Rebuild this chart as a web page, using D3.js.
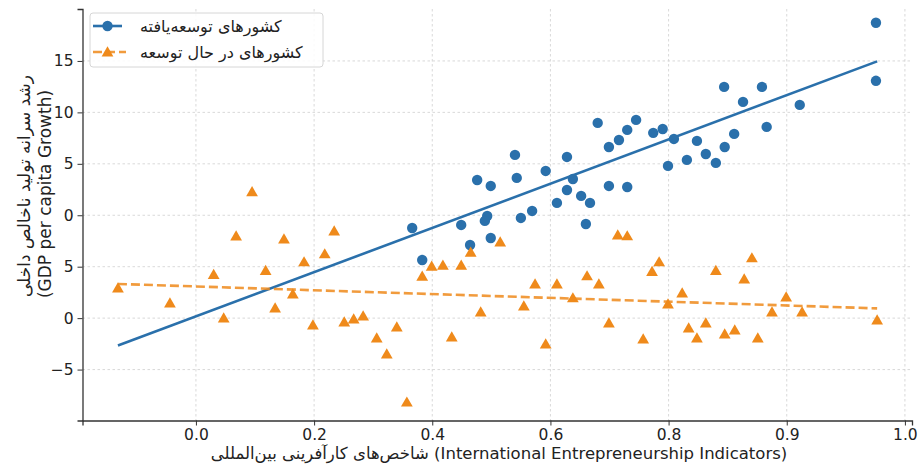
<!DOCTYPE html>
<html>
<head>
<meta charset="utf-8">
<script src="https://cdn.jsdelivr.net/npm/d3@7"></script>
<style>
body { margin: 0; background: #fff; }
text { font-family: "DejaVu Sans", sans-serif; }
</style>
</head>
<body>
<svg id="chart" width="920" height="468"></svg>
<script>
// developed countries (blue circles)
var devX = [0.366, 0.383, 0.449, 0.464, 0.476, 0.499, 0.493, 0.489, 0.499, 0.540, 0.543, 0.550, 0.569, 0.592, 0.611,
    0.628, 0.628, 0.638, 0.652, 0.667, 0.660, 0.680, 0.699, 0.716, 0.730, 0.745, 0.699, 0.730, 0.774, 0.790,
    0.809, 0.848, 0.863, 0.831, 0.799, 0.880, 0.895, 0.911, 0.894, 0.958, 0.926, 1.022, 0.966, 1.151, 1.151];
var devY = [-1.24, -4.35, -0.94, -2.89, 3.43, 2.85, -0.07, -0.55, -2.21, 5.87, 3.63, -0.26, 0.42, 4.31, 1.20,
    5.67, 2.46, 3.53, 1.88, 1.20, -0.85, 8.98, 6.64, 7.32, 8.30, 9.27, 2.85, 2.75, 8.01, 8.39,
    7.42, 7.23, 5.96, 5.38, 4.80, 5.09, 6.64, 7.91, 12.48, 12.48, 11.02, 10.73, 8.59, 18.71, 13.07];

// developing countries (orange triangles)
var ingX = [-0.132, -0.044, 0.030, 0.047, 0.068, 0.095, 0.118, 0.134, 0.149, 0.164, 0.183, 0.198, 0.218, 0.234,
    0.251, 0.267, 0.283, 0.306, 0.323, 0.340, 0.357, 0.383, 0.399, 0.418, 0.433, 0.449, 0.465, 0.482,
    0.515, 0.555, 0.574, 0.592, 0.611, 0.638, 0.662, 0.682, 0.699, 0.714, 0.730, 0.757, 0.772, 0.784,
    0.799, 0.823, 0.834, 0.848, 0.863, 0.880, 0.895, 0.912, 0.928, 0.941, 0.951, 0.975, 0.999, 1.026, 1.153];
var ingY = [-7.07, -8.53, -5.77, -9.99, -2.02, 2.27, -5.38, -9.02, -2.31, -7.66, -4.54, -10.67, -3.76, -1.53,
    -10.38, -10.09, -9.80, -11.94, -13.49, -10.87, -18.17, -5.93, -4.96, -4.86, -11.84, -4.86, -3.60, -9.41,
    -2.60, -8.82, -6.68, -12.52, -6.68, -8.04, -5.90, -6.68, -10.48, -1.92, -2.01, -12.03, -5.48, -4.54,
    -8.63, -7.56, -10.96, -11.94, -10.48, -5.38, -11.55, -11.16, -6.20, -4.15, -11.94, -9.41, -7.95, -9.41, -10.18];

// trend lines [intercept, slope]
var devTrend = [-9.83, 21.50];
var ingTrend = [-6.92, -1.85];

var xTicks = [0, 0.2, 0.4, 0.6, 0.8, 1.0, 1.2];
var xTickLabels = ["0.0", "0.2", "0.4", "0.6", "0.8", "0.9", "1.0"];
var yTicks = [-15, -10, -5, 0, 5, 10, 15];
var yTickLabels = ["\u22125", "0", "5", "0", "5", "10", "15"];

var names = ["کشورهای توسعه‌یافته", "کشورهای در حال توسعه"];
var xLabel = "شاخص‌های کارآفرینی بین‌المللی (International Entrepreneurship Indicators)";
var yLabel = ["رشد سرانه تولید ناخالص داخلی", "(GDP per capita Growth)"];

var blue = "#2a70ab";
var orange = "#ef8a1b";

var margin = { left: 82.5, right: 912, top: 9, bottom: 420.5 };

var svg = d3.select("#chart");

var x = d3.scaleLinear().domain([-0.192, 1.212]).range([margin.left, margin.right]);
var y = d3.scaleLinear().domain([-19.95, 20.05]).range([margin.bottom, margin.top]);

// grid
var grid = svg.append("g").attr("stroke", "#cfcfcf").attr("stroke-width", 0.8).attr("stroke-dasharray", "2.5,2.5");
grid.selectAll(".gx").data(xTicks).enter().append("line")
    .attr("x1", d => x(d)).attr("x2", d => x(d))
    .attr("y1", margin.top).attr("y2", margin.bottom);
grid.selectAll(".gy").data(yTicks).enter().append("line")
    .attr("y1", d => y(d)).attr("y2", d => y(d))
    .attr("x1", margin.left).attr("x2", margin.right);

// axes
svg.append("g").attr("transform", "translate(0," + margin.bottom + ")")
    .call(d3.axisBottom(x).tickValues(xTicks).tickFormat((d, i) => xTickLabels[i]).tickSizeOuter(0).tickSize(5).tickPadding(3));
svg.append("g").attr("transform", "translate(" + margin.left + ",0)")
    .call(d3.axisLeft(y).tickValues(yTicks).tickFormat((d, i) => yTickLabels[i]).tickSizeOuter(0).tickSize(5).tickPadding(4));
svg.selectAll(".domain").attr("stroke", "#333").attr("stroke-width", 1.3);
svg.selectAll(".tick line").attr("stroke", "#333").attr("stroke-width", 1);
svg.selectAll(".tick text").attr("font-size", "15.5px").attr("fill", "#222").attr("font-family", "DejaVu Sans");

// points
svg.append("g").selectAll("circle").data(devX).enter().append("circle")
    .attr("cx", d => x(d)).attr("cy", (d, i) => y(devY[i])).attr("r", 5.2)
    .attr("fill", blue);

var xr = d3.extent(devX.concat(ingX));
var line = d3.line().x(d => x(d[0])).y(d => y(d[1]));

svg.append("path")
    .attr("d", line(xr.map(v => [v, devTrend[0] + devTrend[1] * v])))
    .attr("fill", "none").attr("stroke", blue).attr("stroke-width", 2.6);

var tri = d3.symbol().type(d3.symbolTriangle).size(60);
svg.append("g").selectAll("path").data(ingX).enter().append("path")
    .attr("d", tri)
    .attr("transform", (d, i) => "translate(" + x(d) + "," + (y(ingY[i]) + 1) + ")")
    .attr("fill", orange);

svg.append("path")
    .attr("d", line(xr.map(v => [v, ingTrend[0] + ingTrend[1] * v])))
    .attr("fill", "none").attr("stroke", orange).attr("stroke-width", 2.6)
    .attr("stroke-dasharray", "9,4").attr("stroke-opacity", 0.85);

// axis labels
svg.append("text")
    .attr("x", 499).attr("y", 459)
    .attr("text-anchor", "middle").attr("font-size", "16.5px").attr("fill", "#222")
    .text(xLabel);

svg.selectAll(".ylab").data(yLabel).enter().append("text")
    .attr("transform", (d, i) => "translate(" + (i == 0 ? 30 : 51) + "," + (i == 0 ? 186 : 194) + ") rotate(-90)")
    .attr("text-anchor", "middle").attr("font-size", "17px").attr("fill", "#222")
    .text(d => d);

// legend
var lg = svg.append("g");
lg.append("rect").attr("x", 90).attr("y", 13).attr("width", 233).attr("height", 54).attr("rx", 3)
    .attr("fill", "#fff").attr("fill-opacity", 0.85).attr("stroke", "#d6d6d6");
lg.append("line").attr("x1", 93).attr("x2", 122).attr("y1", 26).attr("y2", 26)
    .attr("stroke", blue).attr("stroke-width", 2.6);
lg.append("circle").attr("cx", 107.5).attr("cy", 26).attr("r", 5.2).attr("fill", blue);
lg.append("line").attr("x1", 93).attr("x2", 126).attr("y1", 52).attr("y2", 52)
    .attr("stroke", orange).attr("stroke-width", 2.6).attr("stroke-dasharray", "9,4").attr("stroke-opacity", 0.85);
lg.append("path").attr("d", tri).attr("transform", "translate(107.5,53)").attr("fill", orange);
lg.selectAll(".lt").data(names).enter().append("text")
    .attr("x", 140).attr("y", (d, i) => 32 + i * 26)
    .attr("font-size", "16px").attr("fill", "#222")
    .text(d => d);
</script>
</body>
</html>
